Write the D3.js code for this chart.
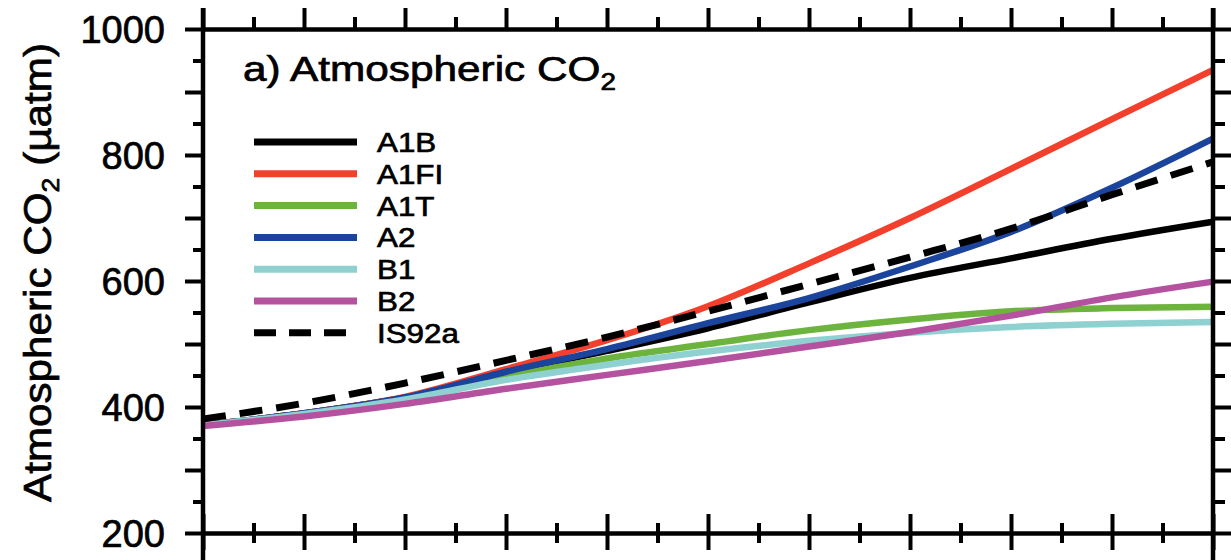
<!DOCTYPE html>
<html>
<head>
<meta charset="utf-8">
<script src="https://cdn.jsdelivr.net/npm/d3@7"></script>
<style>
  html, body { margin: 0; padding: 0; background: #fff; }
  svg { display: block; }
  text { font-family: "Liberation Sans", Arial, Helvetica, sans-serif; fill: #000; stroke: #000; stroke-width: 0.7px; }
</style>
</head>
<body>
<svg id="chart" width="1231" height="560"></svg>
<script>
// ---- data ----
const years = [2000, 2010, 2020, 2030, 2040, 2050, 2060, 2070, 2080, 2090, 2100];
const A1B   = [371, 390, 415, 455, 489, 525, 566, 605, 636, 667, 694];
const A1FI  = [371, 390, 416, 460, 506, 560, 628, 700, 778, 857, 935];
const A1T   = [371, 389, 413, 448, 477, 500, 522, 539, 552, 557, 559];
const A2    = [371, 390, 415, 456, 492, 533, 573, 623, 678, 748, 826];
const B1    = [371, 389, 412, 443, 467, 488, 505, 518, 527, 532, 535];
const B2    = [370, 385, 405, 429, 451, 473, 496, 519, 545, 574, 599];
const IS92a = [381, 406, 438, 474, 511, 552, 595, 638, 683, 737, 789];

const seriesNames  = ["A1B", "A1FI", "A1T", "A2", "B1", "B2", "IS92a"];
const seriesValues = [A1B, A1FI, A1T, A2, B1, B2, IS92a];
const seriesColors = ["#000000", "#f2402c", "#6db43f", "#1b449c", "#8fd0d1", "#b4529f", "#000000"];
const seriesDashed = [false, false, false, false, false, false, true];

const yLabelTicks = [200, 400, 600, 800, 1000];
const yMidTicks   = [300, 500, 700, 900];
const yMinorTicks = [250, 350, 450, 550, 650, 750, 850, 950];
const xMajorTicks = d3.range(2000, 2101, 10);
const xMinorTicks = d3.range(2005, 2100, 10);

const titleText = "a) Atmospheric CO";
const yTitleText = "Atmospheric CO";

// ---- layout ----
const svg = d3.select("#chart");
const L = 203, R = 1213, T = 29, B = 533;
const x = d3.scaleLinear().domain([2000, 2100]).range([L, R]);
const y = d3.scaleLinear().domain([200, 1000]).range([B, T]);

const g = svg.append("g");

// lines
const line = d3.line()
  .x((d, i) => x(years[i]))
  .y(d => y(d))
  .curve(d3.curveMonotoneX);

seriesValues.forEach((vals, k) => {
  g.append("path")
    .datum(vals)
    .attr("d", line)
    .attr("fill", "none")
    .attr("stroke", seriesColors[k])
    .attr("stroke-width", seriesDashed[k] ? 7 : 6.5)
    .attr("stroke-dasharray", seriesDashed[k] ? "23,14" : null)
    .attr("stroke-linecap", "butt")
    .attr("stroke-linejoin", "round");
});

// axes
function styleAxis(sel, domainWidth) {
  sel.selectAll(".tick line").attr("stroke", "#000").attr("stroke-width", 4);
  sel.select(".domain").attr("stroke", "#000").attr("stroke-width", domainWidth);
  sel.selectAll("text").remove();
}

// left
const leftMajor = g.append("g").attr("transform", `translate(${L},0)`)
  .call(d3.axisLeft(y).tickValues(yLabelTicks).tickSize(18).tickSizeOuter(0)
    .tickPadding(20).tickFormat(d3.format("d")));
leftMajor.selectAll(".tick line").attr("stroke", "#000").attr("stroke-width", 4);
leftMajor.select(".domain").remove();
leftMajor.selectAll("text")
  .attr("font-size", 38)
  .attr("font-family", "Liberation Sans, Arial, sans-serif")
  .attr("fill", "#000")
  .attr("dy", "0.36em");
styleAxis(g.append("g").attr("transform", `translate(${L},0)`)
  .call(d3.axisLeft(y).tickValues(yMidTicks).tickSize(18).tickSizeOuter(0)), 0);
styleAxis(g.append("g").attr("transform", `translate(${L},0)`)
  .call(d3.axisLeft(y).tickValues(yMinorTicks).tickSize(10).tickSizeOuter(0)), 0);

// right
styleAxis(g.append("g").attr("transform", `translate(${R},0)`)
  .call(d3.axisRight(y).tickValues(yLabelTicks.concat(yMidTicks)).tickSize(20).tickSizeOuter(0)), 0);
styleAxis(g.append("g").attr("transform", `translate(${R},0)`)
  .call(d3.axisRight(y).tickValues(yMinorTicks).tickSize(12).tickSizeOuter(0)), 0);

// top
styleAxis(g.append("g").attr("transform", `translate(0,${T})`)
  .call(d3.axisTop(x).tickValues(xMajorTicks).tickSize(21).tickSizeOuter(0)), 4.5);
styleAxis(g.append("g").attr("transform", `translate(0,${T})`)
  .call(d3.axisTop(x).tickValues(xMinorTicks).tickSize(12).tickSizeOuter(0)), 0);

// bottom (ticks crossing the axis)
styleAxis(g.append("g").attr("transform", `translate(0,${B})`)
  .call(d3.axisBottom(x).tickValues(xMajorTicks).tickSize(17).tickSizeOuter(0)), 4.5);
styleAxis(g.append("g").attr("transform", `translate(0,${B})`)
  .call(d3.axisTop(x).tickValues(xMajorTicks).tickSize(19).tickSizeOuter(0)), 0);
styleAxis(g.append("g").attr("transform", `translate(0,${B})`)
  .call(d3.axisBottom(x).tickValues(xMinorTicks).tickSize(10).tickSizeOuter(0)), 0);
styleAxis(g.append("g").attr("transform", `translate(0,${B})`)
  .call(d3.axisTop(x).tickValues(xMinorTicks).tickSize(10).tickSizeOuter(0)), 0);

// vertical frame lines (extend into next panel)
[L, R].forEach(px => {
  g.append("line").attr("x1", px).attr("x2", px).attr("y1", 8).attr("y2", 560)
    .attr("stroke", "#000").attr("stroke-width", 4.5);
});

// title
const title = g.append("text")
  .attr("x", 243).attr("y", 81)
  .attr("font-size", 35)
  .attr("textLength", 373)
  .attr("lengthAdjust", "spacingAndGlyphs");
title.append("tspan").text(titleText);
title.append("tspan").attr("font-size", 23).attr("dy", 9).text("2");

// y-axis title
const yt = g.append("text")
  .attr("transform", `translate(51,${(43 + 502) / 2}) rotate(-90)`)
  .attr("text-anchor", "middle")
  .attr("font-size", 38)
  .attr("textLength", 459)
  .attr("lengthAdjust", "spacingAndGlyphs");
yt.append("tspan").text(yTitleText);
yt.append("tspan").attr("font-size", 24).attr("dy", 8).text("2");
yt.append("tspan").attr("dy", -8).text(" (µatm)");

// legend
const legendX1 = 254, legendX2 = 357, legendY0 = 142, legendDy = 31.8;
seriesNames.forEach((name, k) => {
  const ly = legendY0 + k * legendDy;
  g.append("line")
    .attr("x1", legendX1).attr("x2", legendX2)
    .attr("y1", ly).attr("y2", ly)
    .attr("stroke", seriesColors[k])
    .attr("stroke-width", 7)
    .attr("stroke-dasharray", seriesDashed[k] ? "22,13" : null);
  g.append("text")
    .attr("x", 377).attr("y", ly)
    .attr("dy", "0.36em")
    .attr("font-size", 28)
    .attr("transform", `translate(377,0) scale(1.12,1) translate(-377,0)`)
    .text(name);
});
</script>
</body>
</html>
